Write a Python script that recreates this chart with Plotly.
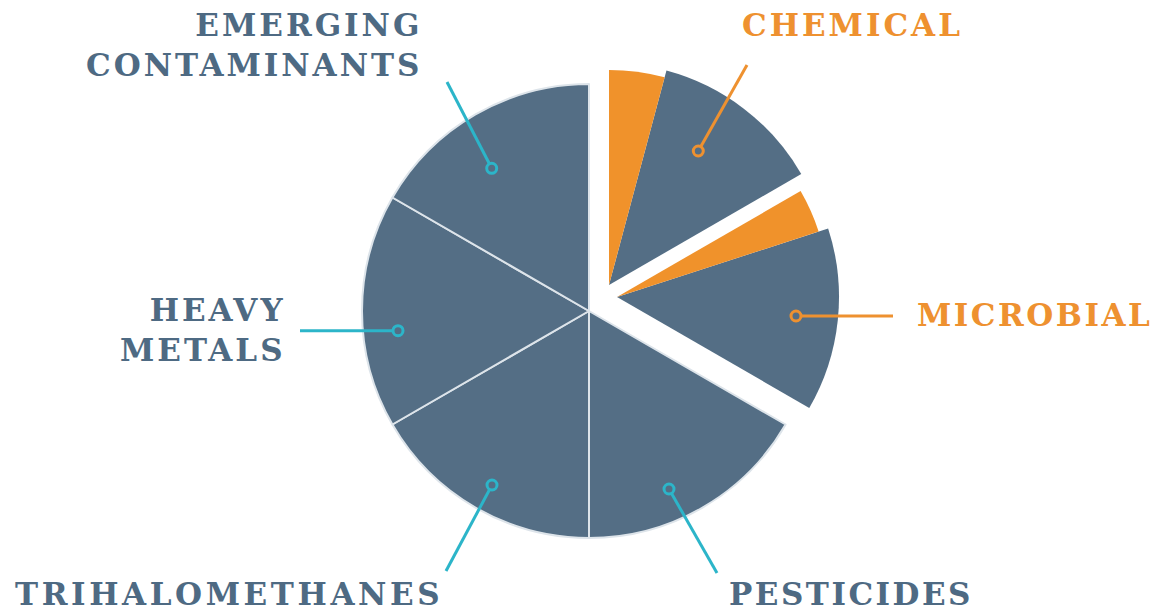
import plotly.graph_objects as go

W, H = 1158, 614

# ---- data ----
categories = ["CHEMICAL", "MICROBIAL", "PESTICIDES", "TRIHALOMETHANES",
              "HEAVY METALS", "EMERGING CONTAMINANTS"]
shares = [1, 1, 1, 1, 1, 1]
pulled = ["CHEMICAL", "MICROBIAL"]
orange_share = [0.25, 0.20]          # orange sub-part of CHEMICAL, MICROBIAL

SLATE = "#546E85"
ORANGE = "#F0922B"
TEAL = "#2CB5C9"
TXT_SLATE = "#4E6A83"
TXT_ORANGE = "#EE9130"
CLEAR = "rgba(0,0,0,0)"
SEP = "#dde4ea"


def px(x):
    return x / W


def py(y):
    return 1 - y / H


def dom(cx, cy, r):
    return dict(x=[px(cx - r), px(cx + r)], y=[py(cy + r), py(cy - r)])


fig = go.Figure()

# main pie (non-pulled slices)
main_colors = [CLEAR if c in pulled else SLATE for c in categories]
main_lw = [0 if c in pulled else 2 for c in categories]
fig.add_trace(go.Pie(
    labels=categories, values=shares, sort=False, direction="clockwise",
    rotation=0, textinfo="none", hoverinfo="label", showlegend=False,
    marker=dict(colors=main_colors, line=dict(color=SEP, width=main_lw)),
    domain=dom(589, 311, 227)))

# pulled slices: each drawn as its own pie shifted outward
pull_geo = {"CHEMICAL": (609, 285, 222, 215), "MICROBIAL": (617, 297, 222, 212)}
total = sum(shares)
for name, osh in zip(pulled, orange_share):
    i = categories.index(name)
    before = sum(shares[:i])
    after = total - before - shares[i]
    vals = [before, shares[i] * osh, shares[i] * (1 - osh), after]
    labs = ["pre", name + " (part)", name, "post"]
    cx, cy, rg, ro = pull_geo[name]
    for colors, r in (([CLEAR, CLEAR, SLATE, CLEAR], rg),
                      ([CLEAR, ORANGE, CLEAR, CLEAR], ro)):
        fig.add_trace(go.Pie(
            labels=labs, values=vals, sort=False, direction="clockwise",
            rotation=0, textinfo="none", hoverinfo="skip", showlegend=False,
            marker=dict(colors=colors, line=dict(width=0)),
            domain=dom(cx, cy, r)))

# leader lines + end circles
leaders = [
    ((447, 82), (491.7, 168.3), TEAL, SLATE),
    ((747, 65), (698.3, 151), TXT_ORANGE, SLATE),
    ((893, 316), (796, 316), TXT_ORANGE, SLATE),
    ((717, 573), (669, 489), TEAL, SLATE),
    ((446, 571), (492, 485), TEAL, SLATE),
    ((300, 330.7), (398, 330.7), TEAL, SLATE),
]
shapes = []
for (x0, y0), (x1, y1), lc, fc in leaders:
    shapes.append(dict(type="line", xref="paper", yref="paper",
                       x0=px(x0), y0=py(y0), x1=px(x1), y1=py(y1),
                       line=dict(color=lc, width=3)))
    r = 5
    shapes.append(dict(type="circle", xref="paper", yref="paper",
                       x0=px(x1 - r), x1=px(x1 + r), y0=py(y1 + r), y1=py(y1 - r),
                       fillcolor=fc, line=dict(color=lc, width=3)))

FS = 31


def sp(t, ls):
    return "<span style='letter-spacing:%.1fpx'>%s</span>" % (ls, t)


labels_pos = [
    ("EMERGING<br>CONTAMINANTS", 419, 44.7, "right", TXT_SLATE, 3),
    ("CHEMICAL", 741.5, 25, "left", TXT_ORANGE, 3),
    ("MICROBIAL", 916.7, 315.3, "left", TXT_ORANGE, 2.5),
    ("HEAVY<br>METALS", 283, 329.5, "right", TXT_SLATE, 3),
    ("TRIHALOMETHANES", 15, 594, "left", TXT_SLATE, 3.6),
    ("PESTICIDES", 729, 594, "left", TXT_SLATE, 2.5),
]
annotations = []
for text, x, y, anc, col, ls in labels_pos:
    t = "<br>".join(sp(p, ls) for p in text.split("<br>"))
    if anc == "right":
        x += ls
    annotations.append(dict(text=t, x=px(x), y=py(y), xref="paper", yref="paper",
                            xanchor=anc, yanchor="middle", align=anc, showarrow=False,
                            borderpad=0, borderwidth=0,
                            font=dict(family="DejaVu Serif", size=FS, color=col,
                                      weight="bold")))

fig.update_layout(width=W, height=H, margin=dict(l=0, r=0, t=0, b=0),
                  paper_bgcolor="white", plot_bgcolor="white",
                  shapes=shapes, annotations=annotations, showlegend=False)

fig.write_html("out.html", config={"displayModeBar": False},
               post_script="document.body.style.margin='0';"
                           "document.body.style.overflow='hidden';")
